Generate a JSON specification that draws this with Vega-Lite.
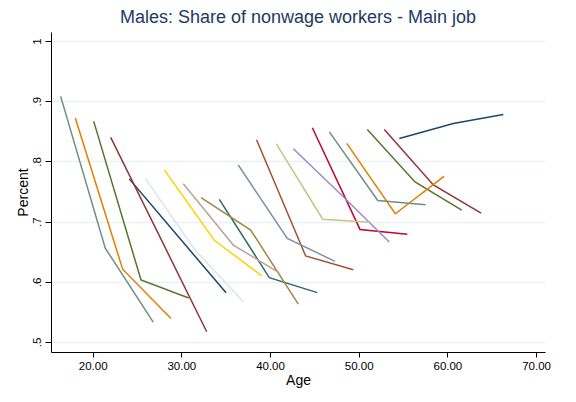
{
  "$schema": "https://vega.github.io/schema/vega-lite/v6.json",
  "width": 494,
  "height": 320,
  "autosize": {"type": "none"},
  "padding": {"left": 51, "top": 32, "right": 31, "bottom": 50},
  "background": "white",
  "title": {
    "text": "Males: Share of nonwage workers - Main job",
    "font": "Liberation Sans",
    "fontSize": 18,
    "fontWeight": "normal",
    "color": "#1e3a5f",
    "anchor": "middle",
    "offset": 5
  },
  "config": {
    "view": {"stroke": null},
    "axis": {"labelFont": "Liberation Sans", "titleFont": "Liberation Sans", "labelColor": "#000", "titleColor": "#000", "titleFontWeight": "normal", "domainColor": "#000", "tickColor": "#000"}
  },
  "data": {
    "values": [
      {"c": 1, "age": 54.58, "pct": 0.838}, {"c": 1, "age": 60.67, "pct": 0.863}, {"c": 1, "age": 66.31, "pct": 0.878},
      {"c": 2, "age": 52.89, "pct": 0.853}, {"c": 2, "age": 58.42, "pct": 0.761}, {"c": 2, "age": 63.80, "pct": 0.714},
      {"c": 3, "age": 50.97, "pct": 0.853}, {"c": 3, "age": 56.35, "pct": 0.766}, {"c": 3, "age": 61.62, "pct": 0.719},
      {"c": 4, "age": 48.65, "pct": 0.830}, {"c": 4, "age": 54.13, "pct": 0.713}, {"c": 4, "age": 59.62, "pct": 0.775},
      {"c": 5, "age": 46.69, "pct": 0.849}, {"c": 5, "age": 52.15, "pct": 0.735}, {"c": 5, "age": 57.56, "pct": 0.728},
      {"c": 6, "age": 44.77, "pct": 0.856}, {"c": 6, "age": 50.15, "pct": 0.687}, {"c": 6, "age": 55.48, "pct": 0.679},
      {"c": 7, "age": 42.63, "pct": 0.821}, {"c": 7, "age": 48.0, "pct": 0.745}, {"c": 7, "age": 53.45, "pct": 0.666},
      {"c": 8, "age": 40.71, "pct": 0.829}, {"c": 8, "age": 45.94, "pct": 0.704}, {"c": 8, "age": 51.36, "pct": 0.699},
      {"c": 9, "age": 38.48, "pct": 0.836}, {"c": 9, "age": 44.02, "pct": 0.643}, {"c": 9, "age": 49.39, "pct": 0.620},
      {"c": 10, "age": 36.42, "pct": 0.794}, {"c": 10, "age": 41.95, "pct": 0.672}, {"c": 10, "age": 47.33, "pct": 0.634},
      {"c": 11, "age": 34.28, "pct": 0.737}, {"c": 11, "age": 39.92, "pct": 0.607}, {"c": 11, "age": 45.33, "pct": 0.582},
      {"c": 12, "age": 32.22, "pct": 0.740}, {"c": 12, "age": 37.82, "pct": 0.686}, {"c": 12, "age": 43.19, "pct": 0.563},
      {"c": 13, "age": 30.22, "pct": 0.763}, {"c": 13, "age": 35.86, "pct": 0.661}, {"c": 13, "age": 41.05, "pct": 0.615},
      {"c": 14, "age": 28.08, "pct": 0.786}, {"c": 14, "age": 33.72, "pct": 0.669}, {"c": 14, "age": 39.06, "pct": 0.610},
      {"c": 15, "age": 25.98, "pct": 0.771}, {"c": 15, "age": 31.54, "pct": 0.653}, {"c": 15, "age": 36.99, "pct": 0.567},
      {"c": 16, "age": 24.13, "pct": 0.771}, {"c": 16, "age": 29.6, "pct": 0.676}, {"c": 16, "age": 35.04, "pct": 0.582},
      {"c": 17, "age": 22.03, "pct": 0.840}, {"c": 17, "age": 27.4, "pct": 0.680}, {"c": 17, "age": 32.86, "pct": 0.517},
      {"c": 18, "age": 20.11, "pct": 0.867}, {"c": 18, "age": 25.45, "pct": 0.603}, {"c": 18, "age": 30.83, "pct": 0.573},
      {"c": 19, "age": 18.04, "pct": 0.872}, {"c": 19, "age": 23.38, "pct": 0.621}, {"c": 19, "age": 28.83, "pct": 0.539},
      {"c": 20, "age": 16.39, "pct": 0.908}, {"c": 20, "age": 21.42, "pct": 0.656}, {"c": 20, "age": 26.83, "pct": 0.533}
    ]
  },
  "mark": {"type": "line", "strokeWidth": 1.5, "clip": true},
  "encoding": {
    "x": {
      "field": "age", "type": "quantitative",
      "scale": {"domain": [15.3, 71.01], "nice": false, "zero": false},
      "axis": {"title": "Age", "values": [20, 30, 40, 50, 60, 70], "format": ".2f", "grid": false, "labelFontSize": 11.5, "titleFontSize": 14, "tickSize": 5, "labelPadding": 3, "titlePadding": 2, "domainWidth": 1}
    },
    "y": {
      "field": "pct", "type": "quantitative",
      "scale": {"domain": [0.4834, 1.015], "nice": false, "zero": false},
      "axis": {"title": "Percent", "values": [0.5, 0.6, 0.7, 0.8, 0.9, 1], "labelExpr": "datum.value >= 1 ? '1' : replace(format(datum.value, '.1f'), '0.', '.')", "labelAngle": -90, "labelAlign": "center", "labelBaseline": "bottom", "grid": true, "gridColor": "#eaf2f3", "gridWidth": 1.5, "labelFontSize": 11.5, "titleFontSize": 14, "tickSize": 6, "labelPadding": 3, "titlePadding": 1}
    },
    "color": {
      "field": "c", "type": "nominal", "legend": null,
      "scale": {
        "domain": [1, 2, 3, 4, 5, 6, 7, 8, 9, 10, 11, 12, 13, 14, 15, 16, 17, 18, 19, 20],
        "range": ["#1a476f", "#90353b", "#55752f", "#e37e00", "#6e8e84", "#c10534", "#938dd2", "#cac27e", "#a0522d", "#7b92a8", "#2d6d66", "#9c8847", "#bfa19c", "#ffd200", "#d9e6eb", "#1a476f", "#90353b", "#55752f", "#e37e00", "#6e8e84"]
      }
    }
  }
}
